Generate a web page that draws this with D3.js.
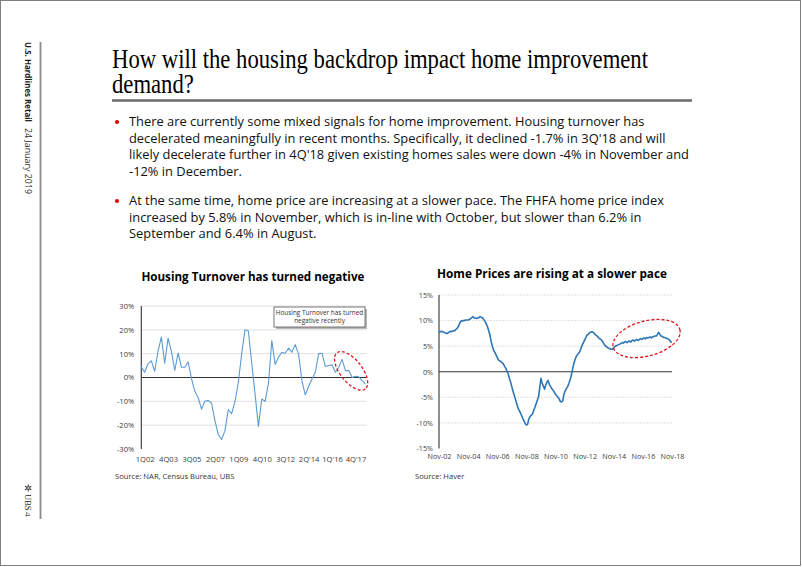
<!DOCTYPE html>
<html><head><meta charset="utf-8">
<script src="https://cdn.jsdelivr.net/npm/d3@7"></script>
<style>
html,body{margin:0;padding:0;background:#fff;}
svg{display:block;}
</style></head>
<body>
<svg id="c" width="802" height="567"></svg>
<script>
// ---------------- DATA ----------------
const sidebarTitle = "U.S. Hardlines Retail";
const sidebarDate = "24 January 2019";
const footerBrand = "UBS";
const pageNumber = "4";

const titleLines = ["How will the housing backdrop impact home improvement", "demand?"];

const bulletParagraphs = [
  ["There are currently some mixed signals for home improvement. Housing turnover has",
   "decelerated meaningfully in recent months. Specifically, it declined -1.7% in 3Q'18 and will",
   "likely decelerate further in 4Q'18 given existing homes sales were down -4% in November and",
   "-12% in December."],
  ["At the same time, home price are increasing at a slower pace. The FHFA home price index",
   "increased by 5.8% in November, which is in-line with October, but slower  than 6.2% in",
   "September and 6.4% in August."]
];

// Chart 1: Housing turnover (quarterly, y/y %)
const turnoverTitle = "Housing Turnover has turned negative";
const turnoverSource = "Source: NAR, Census Bureau, UBS";
const turnoverNote = ["Housing Turnover has turned", "negative recently"];
const turnoverQuarters = [
 "4Q01",
 "1Q02","2Q02","3Q02","4Q02","1Q03","2Q03","3Q03","4Q03",
 "1Q04","2Q04","3Q04","4Q04","1Q05","2Q05","3Q05","4Q05",
 "1Q06","2Q06","3Q06","4Q06","1Q07","2Q07","3Q07","4Q07",
 "1Q08","2Q08","3Q08","4Q08","1Q09","2Q09","3Q09","4Q09",
 "1Q10","2Q10","3Q10","4Q10","1Q11","2Q11","3Q11","4Q11",
 "1Q12","2Q12","3Q12","4Q12","1Q13","2Q13","3Q13","4Q13",
 "1Q14","2Q14","3Q14","4Q14","1Q15","2Q15","3Q15","4Q15",
 "1Q16","2Q16","3Q16","4Q16","1Q17","2Q17","3Q17","4Q17",
 "1Q18","2Q18","3Q18"
];
const turnoverValues = [
 4.5,
 2.2, 5.7, 7.0, 2.6, 11.0, 17.0, 6.0, 16.5,
 11.0, 3.0, 10.3, 4.3, 4.3, 6.5, -0.5, -5.8,
 -8.5, -13.3, -10.0, -9.6, -10.8, -18.0, -24.0, -26.0,
 -22.3, -13.5, -15.2, -10.0, -2.0, 10.0, 20.0, 19.5,
 6.0, -7.0, -20.5, -9.0, -10.0, -2.5, 15.5, 5.5,
 8.5, 10.6, 10.2, 12.3, 10.6, 13.8, 9.8, -1.3,
 -7.3, -3.8, -0.6, 2.2, 10.0, 10.2, 4.6, 5.0,
 5.3, 2.2, 4.3, 7.6, 2.9, 2.9, 0.0, 0.5,
 0.3, -1.3, -2.8
];
const turnoverTickQuarters = ["1Q02","4Q03","3Q05","2Q07","1Q09","4Q10","3Q12","2Q14","1Q16","4Q17"];
const turnoverTickLabels   = ["1Q02","4Q03","3Q05","2Q07","1Q09","4Q10","3Q12","2Q'14","1Q'16","4Q'17"];
const turnoverYTicks = [-30,-20,-10,0,10,20,30];

// Chart 2: FHFA home price index (monthly, y/y %), Nov-02 .. Nov-18
const hpiTitle = "Home Prices are rising at a slower pace";
const hpiSource = "Source: Haver";
const hpiStartMonth = "2002-11";
const hpiValues = [
 7.8, 7.8, 7.9, 7.8, 7.7, 7.6, 7.5, 7.5, 7.7, 7.8, 7.9, 7.9,        // Nov02-Oct03
 8.0, 8.0, 8.3, 8.5, 8.9, 9.4, 9.9, 9.9, 10.0, 10.0, 10.1, 10.1,    // Nov03-Oct04
 10.1, 10.2, 10.4, 10.6, 10.8, 10.5, 10.5, 10.4, 10.5, 10.6, 10.8, 10.6, // Nov04-Oct05
 10.5, 10.2, 9.8, 9.3, 8.8, 8.0, 7.2, 5.9, 5.0, 4.2, 3.8, 3.3,      // Nov05-Oct06
 2.8, 2.3, 2.1, 2.0, 1.8, 1.6, 1.1, 0.7, 0.2, -0.4, -1.3, -2.0,     // Nov06-Oct07
 -2.9, -3.8, -4.6, -5.4, -6.2, -7.0, -7.5, -8.0, -8.5, -9.1, -9.6, -10.1, // Nov07-Oct08
 -10.4, -10.3, -9.2, -8.8, -8.5, -8.3, -7.6, -7.0, -6.3, -5.6, -4.9, -3.2, // Nov08-Oct09
 -1.3, -2.2, -2.8, -3.4, -2.6, -2.0, -1.7, -2.5, -2.9, -3.3, -3.6, -4.0,   // Nov09-Oct10
 -4.4, -4.7, -5.0, -5.3, -5.8, -5.9, -5.7, -4.4, -3.8, -3.3, -2.9, -2.3,   // Nov10-Oct11
 -1.6, -0.8, 0.4, 1.5, 2.3, 2.9, 3.3, 3.6, 3.9, 4.6, 5.2, 5.7,      // Nov11-Oct12
 6.2, 6.7, 7.2, 7.3, 7.6, 7.7, 7.8, 7.7, 7.5, 7.2, 7.0, 6.8,        // Nov12-Oct13
 6.5, 6.4, 6.2, 5.8, 5.4, 5.1, 4.9, 4.7, 4.6, 4.5, 4.4, 4.4,        // Nov13-Oct14
 4.7, 4.9, 5.1, 5.2, 5.3, 5.4, 5.5, 5.7, 5.6, 5.8, 5.9, 5.7,        // Nov14-Oct15
 5.9, 6.0, 5.8, 6.1, 6.2, 6.0, 6.2, 6.3, 6.1, 6.3, 6.5, 6.3,        // Nov15-Oct16
 6.5, 6.6, 6.4, 6.7, 6.6, 6.7, 6.8, 6.6, 6.8, 6.9, 7.0, 7.0,        // Nov16-Oct17
 7.3, 7.7, 7.3, 7.0, 6.9, 6.7, 6.7, 6.6, 6.5, 6.4, 6.2, 5.8,        // Nov17-Oct18
 5.8                                                               // Nov18
];
const hpiTickLabels = ["Nov-02","Nov-04","Nov-06","Nov-08","Nov-10","Nov-12","Nov-14","Nov-16","Nov-18"];
const hpiYTicks = [-15,-10,-5,0,5,10,15];

// ---------------- DRAW ----------------
const SANS = "'Open Sans','Noto Sans',sans-serif";
const SERIF = "'Liberation Serif','DejaVu Serif',serif";
const svg = d3.select("#c");

function natural(sel){ return sel.node().getComputedTextLength(); }
function fit(sel, w){ sel.attr("textLength", w).attr("lengthAdjust","spacingAndGlyphs"); return sel; }

// page frame
svg.append("rect").attr("x",0.5).attr("y",0.5).attr("width",800).attr("height",565)
  .attr("fill","none").attr("stroke","#7f7f7f").attr("stroke-width",1);

// sidebar
svg.append("line").attr("x1",40.5).attr("x2",40.5).attr("y1",42).attr("y2",519)
  .attr("stroke","#8c8c8c").attr("stroke-width",1.8);
const sb = svg.append("g").attr("transform","translate(25,42) rotate(90)");
fit(sb.append("text").attr("x",0).attr("y",0).attr("font-family",SANS).attr("font-weight","bold")
  .attr("font-size",8.6).attr("fill","#1a1a1a").text(sidebarTitle), 80);
fit(sb.append("text").attr("x",86).attr("y",0).attr("font-family",SANS)
  .attr("font-size",8.6).attr("fill","#333").text(sidebarDate), 66);

// footer logo
const ft = svg.append("g").attr("transform","translate(25,484) rotate(90)");
const key = ft.append("g").attr("transform","translate(4,-3.2)");
[0,60,120].forEach(a=>{
  key.append("line").attr("x1",-3.6).attr("x2",3.6).attr("y1",0).attr("y2",0)
    .attr("stroke","#333").attr("stroke-width",1.1).attr("transform",`rotate(${a})`);
});
key.append("circle").attr("r",1.3).attr("fill","#fff").attr("stroke","#333").attr("stroke-width",0.8);
ft.append("text").attr("x",10).attr("y",0).attr("font-family",SERIF).attr("font-size",8.5)
  .attr("fill","#222").text(footerBrand);
ft.append("text").attr("x",28).attr("y",0).attr("font-family",SANS).attr("font-size",8)
  .attr("fill","#222").text(pageNumber);

// title
const tA = svg.append("text").attr("x",112).attr("y",68).attr("font-family",SERIF)
  .attr("font-size",26.5).attr("fill","#000").text(titleLines[0]);
const tf = 536 / natural(tA);
fit(tA, 536);
const tB = svg.append("text").attr("x",112).attr("y",93).attr("font-family",SERIF)
  .attr("font-size",26.5).attr("fill","#000").text(titleLines[1]);
fit(tB, natural(tB)*tf);
svg.append("line").attr("x1",112).attr("x2",692).attr("y1",100.5).attr("y2",100.5)
  .attr("stroke","#6b6b6b").attr("stroke-width",2.5);

// bullets
const bulletStarts = [126, 205];
const lineGap = 16.5;
const probe = svg.append("text").attr("font-family",SANS).attr("font-size",13).text(bulletParagraphs[0][2]);
const bfactor = 560 / natural(probe);
probe.remove();
bulletParagraphs.forEach((para, pi) => {
  svg.append("circle").attr("cx",117).attr("cy",bulletStarts[pi]-4).attr("r",2.1).attr("fill","#e60000");
  para.forEach((ln, li) => {
    const t = svg.append("text").attr("x",129).attr("y",bulletStarts[pi]+li*lineGap)
      .attr("font-family",SANS).attr("font-size",13).attr("fill","#111").text(ln);
    fit(t, natural(t)*bfactor);
  });
});

// ---------- Chart 1 ----------
const L = {x0:141.3, x1:365.5, yTop:306, yBot:449};
const xL = d3.scalePoint().domain(turnoverQuarters).range([L.x0, L.x1]);
const yL = d3.scaleLinear().domain([-30,30]).range([L.yBot, L.yTop]);
const g1 = svg.append("g");

const ct1 = g1.append("text").attr("x",(L.x0+L.x1)/2 - 0.5).attr("y",281).attr("text-anchor","middle")
  .attr("font-family",SANS).attr("font-weight","bold").attr("font-size",11.5).attr("fill","#000").text(turnoverTitle);
fit(ct1, 223);

g1.selectAll("line.grid").data(turnoverYTicks.filter(v=>v!==0 && v!==-30)).join("line")
  .attr("class","grid").attr("x1",L.x0).attr("x2",L.x1+1).attr("y1",d=>yL(d)).attr("y2",d=>yL(d))
  .attr("stroke","#d9d9d9").attr("stroke-width",0.8);

const ya1 = g1.append("g").attr("transform",`translate(${L.x0},0)`)
  .call(d3.axisLeft(yL).tickValues(turnoverYTicks).tickFormat(d=>d+"%").tickSize(0).tickPadding(7));
ya1.select(".domain").remove();
ya1.selectAll("text").attr("font-family",SANS).attr("font-size",7.6).attr("fill","#404040");

const xa1 = g1.append("g").attr("transform",`translate(0,${L.yBot})`)
  .call(d3.axisBottom(xL).tickValues(turnoverTickQuarters).tickFormat((d,i)=>turnoverTickLabels[i]).tickSize(0).tickPadding(8));
xa1.select(".domain").remove();
xa1.selectAll("text").attr("font-family",SANS).attr("font-size",7.6).attr("fill","#404040");

g1.append("line").attr("x1",L.x0).attr("x2",L.x1+1).attr("y1",yL(0)).attr("y2",yL(0))
  .attr("stroke","#333").attr("stroke-width",1.1);
g1.append("line").attr("x1",L.x0).attr("x2",L.x0).attr("y1",yL(30)).attr("y2",yL(-30))
  .attr("stroke","#333").attr("stroke-width",1.1);

g1.append("path").datum(turnoverValues)
  .attr("d", d3.line().x((d,i)=>xL(turnoverQuarters[i])).y(d=>yL(d)))
  .attr("fill","none").attr("stroke","#5b9bd5").attr("stroke-width",1.1).attr("stroke-linejoin","round");

// note box
const nb = g1.append("g").attr("transform","translate(274,307)");
nb.append("rect").attr("x",2).attr("y",2).attr("width",91).attr("height",20).attr("fill","#8a8a8a").attr("opacity",0.6);
nb.append("rect").attr("width",91).attr("height",20).attr("fill","#fff").attr("stroke","#555").attr("stroke-width",0.8);
turnoverNote.forEach((s,i)=>{
  nb.append("text").attr("x",45.5).attr("y",8+i*8).attr("text-anchor","middle")
    .attr("font-family",SANS).attr("font-size",6.4).attr("fill","#333").text(s);
});

// red ellipse
g1.append("ellipse").attr("cx",0).attr("cy",0).attr("rx",23).attr("ry",11)
  .attr("transform",`translate(${xL("3Q17")-1},${yL(2.8)}) rotate(52)`)
  .attr("fill","none").attr("stroke","#e3161d").attr("stroke-width",1.3).attr("stroke-dasharray","3,2");

g1.append("text").attr("x",115).attr("y",479).attr("font-family",SANS).attr("font-size",7.6)
  .attr("fill","#333").text(turnoverSource);

// ---------- Chart 2 ----------
const R = {x0:439, x1:672, yTop:295, yBot:448.5};
const parseM = d3.timeParse("%Y-%m");
const start = parseM(hpiStartMonth);
const hpiDates = hpiValues.map((v,i)=>d3.timeMonth.offset(start,i));
const xR = d3.scaleTime().domain([hpiDates[0], hpiDates[hpiDates.length-1]]).range([R.x0, R.x1]);
const yR = d3.scaleLinear().domain([-15,15]).range([R.yBot, R.yTop]);
const g2 = svg.append("g");

const ct2 = g2.append("text").attr("x",552).attr("y",278).attr("text-anchor","middle")
  .attr("font-family",SANS).attr("font-weight","bold").attr("font-size",11.5).attr("fill","#000").text(hpiTitle);
fit(ct2, 230);

g2.selectAll("line.grid").data(hpiYTicks.filter(v=>v!==0 && v!==-15)).join("line")
  .attr("class","grid").attr("x1",R.x0).attr("x2",R.x1).attr("y1",d=>yR(d)).attr("y2",d=>yR(d))
  .attr("stroke","#d9d9d9").attr("stroke-width",0.8).attr("stroke-dasharray","2,1");

const ya2 = g2.append("g").attr("transform",`translate(${R.x0},0)`)
  .call(d3.axisLeft(yR).tickValues(hpiYTicks).tickFormat(d=>d+"%").tickSize(0).tickPadding(6));
ya2.select(".domain").remove();
ya2.selectAll("text").attr("font-family",SANS).attr("font-size",7.2).attr("fill","#404040");

const hpiTickDates = hpiTickLabels.map((s,i)=>d3.timeMonth.offset(start, i*24));
const xa2 = g2.append("g").attr("transform",`translate(0,${R.yBot})`)
  .call(d3.axisBottom(xR).tickValues(hpiTickDates).tickFormat((d,i)=>hpiTickLabels[i]).tickSize(0).tickPadding(5));
xa2.select(".domain").remove();
xa2.selectAll("text").attr("font-family",SANS).attr("font-size",7.2).attr("fill","#404040");

g2.append("line").attr("x1",R.x0).attr("x2",R.x1).attr("y1",yR(0)).attr("y2",yR(0))
  .attr("stroke","#333").attr("stroke-width",1.1);
g2.append("line").attr("x1",R.x0).attr("x2",R.x0).attr("y1",yR(15)).attr("y2",yR(-15))
  .attr("stroke","#333").attr("stroke-width",1.1);

g2.append("path").datum(hpiValues)
  .attr("d", d3.line().x((d,i)=>xR(hpiDates[i])).y(d=>yR(d)))
  .attr("fill","none").attr("stroke","#2e75b6").attr("stroke-width",1.6).attr("stroke-linejoin","round");

g2.append("ellipse").attr("cx",0).attr("cy",0).attr("rx",34.5).attr("ry",17.5)
  .attr("transform",`translate(${xR(hpiDates[171])},${yR(6.5)}) rotate(-15)`)
  .attr("fill","none").attr("stroke","#e3161d").attr("stroke-width",1.3).attr("stroke-dasharray","3,2");

g2.append("text").attr("x",415).attr("y",479).attr("font-family",SANS).attr("font-size",7.6)
  .attr("fill","#333").text(hpiSource);
</script>
</body></html>
